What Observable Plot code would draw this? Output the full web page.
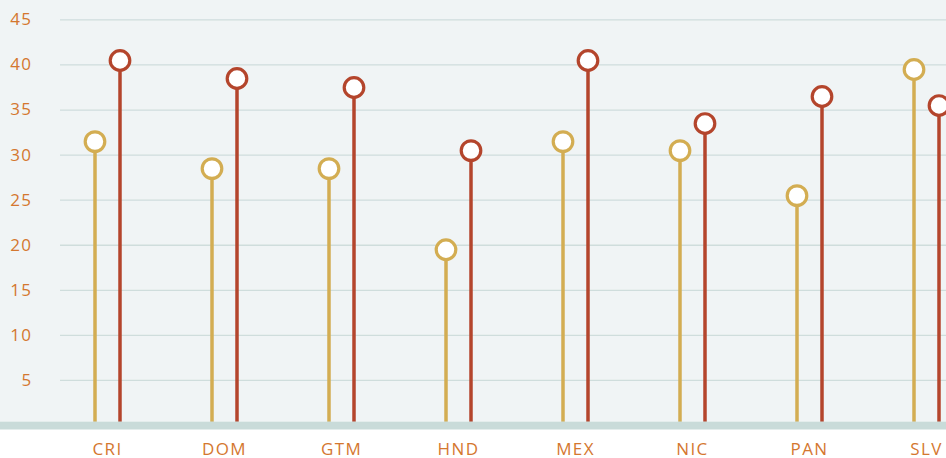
<!DOCTYPE html>
<html>
<head>
<meta charset="utf-8">
<script src="https://cdn.jsdelivr.net/npm/d3@7"></script>
<script src="https://cdn.jsdelivr.net/npm/@observablehq/plot@0.6"></script>
<style>
  html, body { margin: 0; padding: 0; background: #ffffff; }
  #chart {
    width: 946px; height: 458px; overflow: hidden;
    background: linear-gradient(to bottom, #f0f4f5 0px, #f0f4f5 421px, #ffffff 421px);
  }
  #chart svg { background: transparent; display: block; }
  #chart svg text { letter-spacing: 1.4px; font-weight: 400; }
</style>
</head>
<body>
<div id="chart"></div>
<script>
const categories = ["CRI", "DOM", "GTM", "HND", "MEX", "NIC", "PAN", "SLV"];
const seriesA = [31.5, 28.5, 28.5, 19.5, 31.5, 30.5, 25.5, 39.5]; // yellow (left)
const seriesB = [40.5, 38.5, 37.5, 30.5, 40.5, 33.5, 36.5, 35.5]; // red (right)
const yTicks = [5, 10, 15, 20, 25, 30, 35, 40, 45];

const yellow = "#d3ad52";
const red = "#b4452c";
const textColor = "#d4772f";

const dataA = categories.map((c, i) => ({cat: c, value: seriesA[i]}));
const dataB = categories.map((c, i) => ({cat: c, value: seriesB[i]}));

const chart = Plot.plot({
  width: 946,
  height: 458,
  marginLeft: 0,
  marginRight: 0,
  marginTop: 0,
  marginBottom: 33,
  style: {background: "transparent", fontFamily: "'Open Sans', sans-serif", fontSize: "17px", color: textColor},
  x: {type: "point", domain: categories, range: [107, 926], padding: 0},
  y: {domain: [0, 45], range: [425, 19.4]},
  marks: [
    Plot.gridY(yTicks, {stroke: "#cfdddc", strokeOpacity: 1, strokeWidth: 1.3, insetLeft: 60}),
    Plot.ruleX(dataA, {x: "cat", y1: 0, y2: "value", dx: -12.5, stroke: yellow, strokeWidth: 3.5}),
    Plot.ruleX(dataB, {x: "cat", y1: 0, y2: "value", dx: 12.5, stroke: red, strokeWidth: 3.5}),
    Plot.ruleY([0], {stroke: "#c9dbd9", strokeWidth: 8}),
    Plot.dot(dataA, {x: "cat", y: "value", dx: -12.5, r: 9.8, fill: "#ffffff", stroke: yellow, strokeWidth: 3.2}),
    Plot.dot(dataB, {x: "cat", y: "value", dx: 12.5, r: 9.8, fill: "#ffffff", stroke: red, strokeWidth: 3.2}),
    Plot.axisY(yTicks, {anchor: "left", tickSize: 0, tickPadding: 0, dx: 32, fill: textColor, fontSize: 17, label: null}),
    Plot.axisX({anchor: "bottom", tickSize: 0, tickPadding: 17, fill: textColor, fontSize: 17, label: null})
  ]
});
document.getElementById("chart").appendChild(chart);
</script>
</body>
</html>
